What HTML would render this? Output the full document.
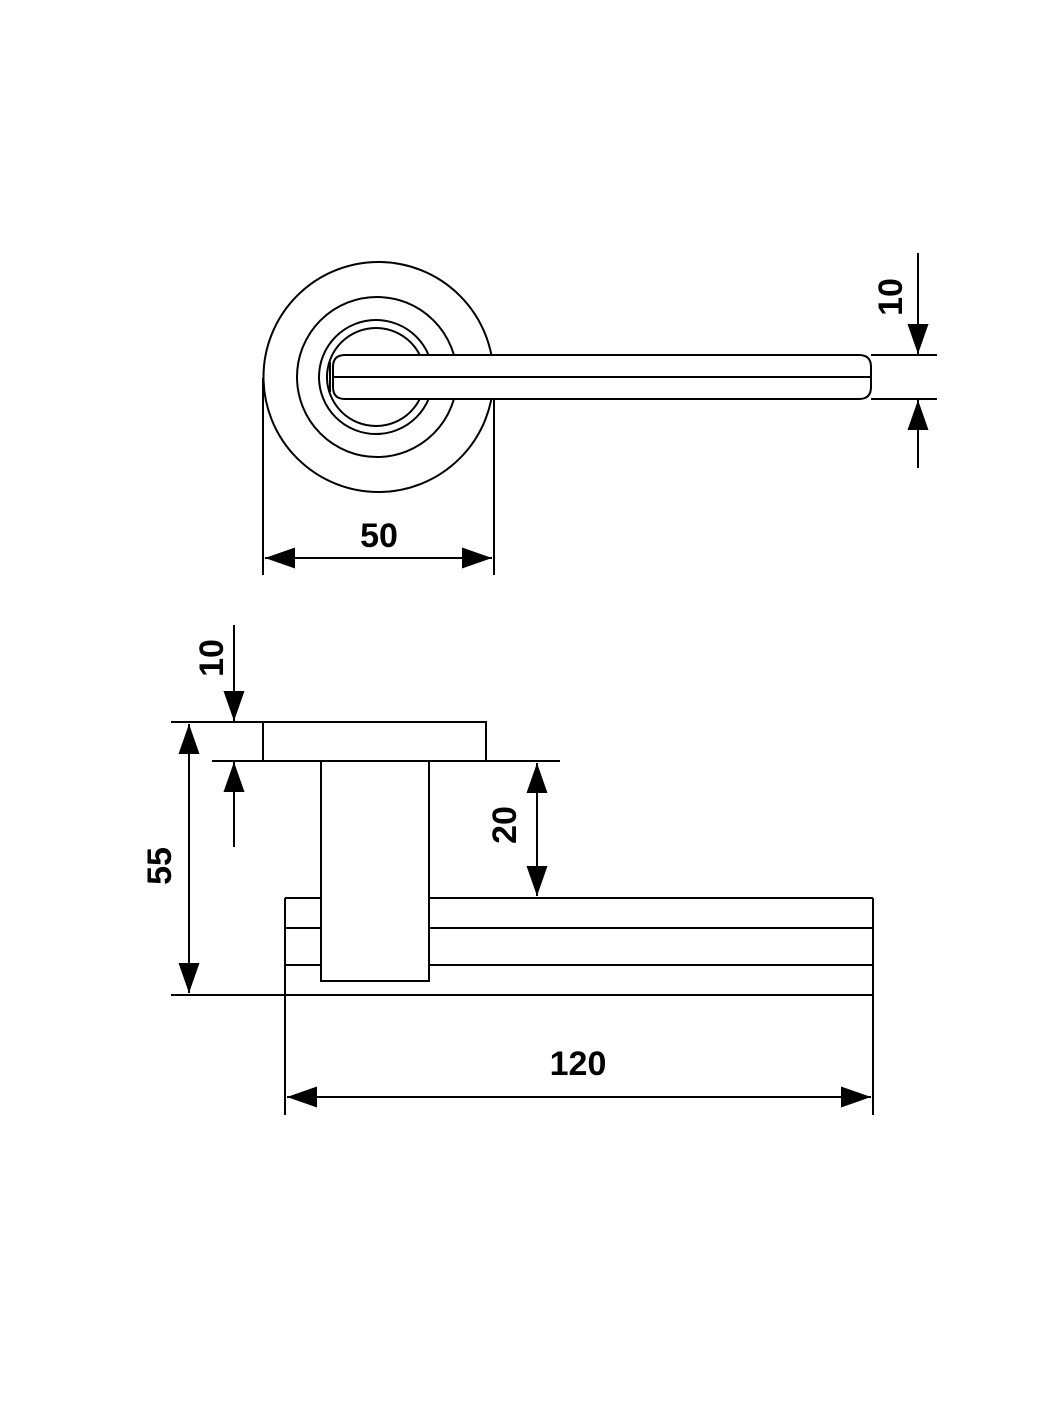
<!DOCTYPE html>
<html><head><style>html,body{margin:0;padding:0;background:#fff}</style></head><body>
<svg width="1050" height="1400" viewBox="0 0 1050 1400" xmlns="http://www.w3.org/2000/svg">
<defs>
<marker id="a" viewBox="0 0 10 10" refX="10" refY="5" markerWidth="30" markerHeight="30" markerUnits="userSpaceOnUse" orient="auto-start-reverse"><path d="M0,1.5 L10,5 L0,8.5 Z" fill="#000"/></marker>
</defs>
<g fill="none" stroke="#000" stroke-width="2">
<!-- top view -->
<circle cx="378.5" cy="377" r="115"/>
<circle cx="377" cy="377" r="80"/>
<circle cx="376" cy="377" r="57"/>
<circle cx="376" cy="377" r="49"/>
<path d="M345,355 H859 Q871,355 871,367 V387 Q871,399 859,399 H345 Q333,399 333,387 V367 Q333,355 345,355 Z" fill="#fff"/>
<line x1="333" y1="377" x2="871" y2="377"/>
<line x1="330" y1="362" x2="330" y2="392"/>
<line x1="263" y1="378" x2="263" y2="575"/>
<line x1="494" y1="400" x2="494" y2="575"/>
<line x1="265" y1="558" x2="492" y2="558" marker-start="url(#a)" marker-end="url(#a)"/>
<line x1="871" y1="355" x2="937" y2="355"/>
<line x1="871" y1="399" x2="937" y2="399"/>
<line x1="918" y1="253" x2="918" y2="354" marker-end="url(#a)"/>
<line x1="918" y1="468" x2="918" y2="400" marker-end="url(#a)"/>
<!-- side view -->
<rect x="263" y="722" width="223" height="39"/>
<line x1="171" y1="722" x2="263" y2="722"/>
<line x1="212" y1="761" x2="560" y2="761"/>
<line x1="285" y1="898" x2="321" y2="898"/>
<line x1="429" y1="898" x2="873" y2="898"/>
<line x1="285" y1="928" x2="321" y2="928"/>
<line x1="429" y1="928" x2="873" y2="928"/>
<line x1="285" y1="965" x2="321" y2="965"/>
<line x1="429" y1="965" x2="873" y2="965"/>
<line x1="171" y1="995" x2="873" y2="995"/>
<line x1="873" y1="898" x2="873" y2="1115"/>
<line x1="285" y1="898" x2="285" y2="1115"/>
<rect x="321" y="761" width="108" height="220" fill="#fff"/>
<line x1="189" y1="724" x2="189" y2="993" marker-start="url(#a)" marker-end="url(#a)"/>
<line x1="537" y1="763" x2="537" y2="896" marker-start="url(#a)" marker-end="url(#a)"/>
<line x1="234" y1="625" x2="234" y2="721" marker-end="url(#a)"/>
<line x1="234" y1="847" x2="234" y2="762" marker-end="url(#a)"/>
<line x1="287" y1="1097" x2="871" y2="1097" marker-start="url(#a)" marker-end="url(#a)"/>
</g>
<g font-family="Liberation Sans, sans-serif" font-size="34" font-weight="bold" text-anchor="middle" fill="#000">
<text x="379" y="547">50</text>
<text x="578" y="1075">120</text>
<text transform="translate(902,297) rotate(-90)">10</text>
<text transform="translate(223,658) rotate(-90)">10</text>
<text transform="translate(171,866) rotate(-90)">55</text>
<text transform="translate(516,825) rotate(-90)">20</text>
</g>
</svg>
</body></html>
